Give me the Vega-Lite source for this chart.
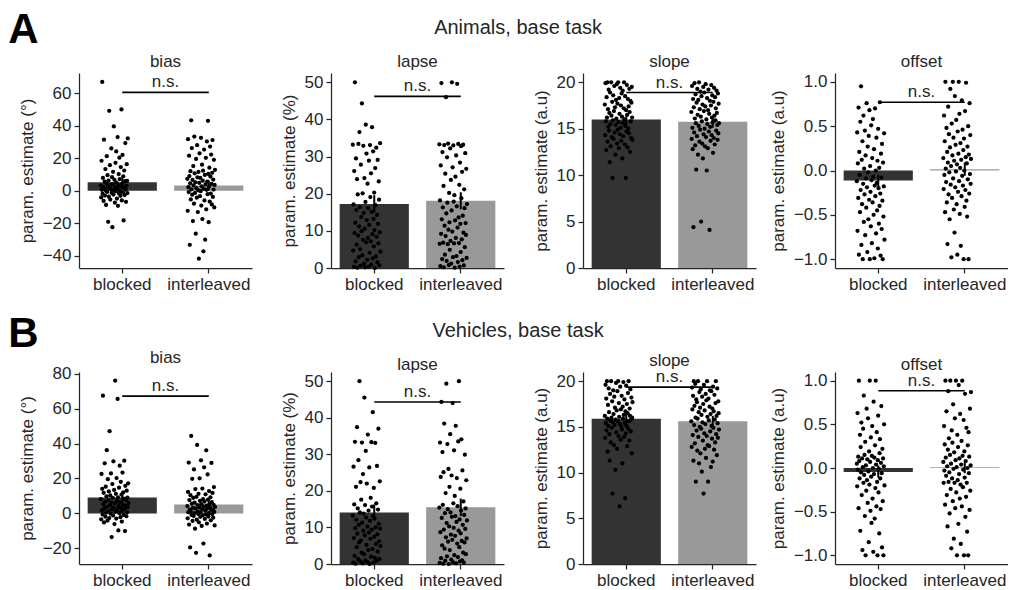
{
"$schema": "https://vega.github.io/schema/vega-lite/v6.json",
"padding": {"left": 8, "top": 8, "right": 0, "bottom": 0},
"config": {
  "font": "Liberation Sans",
  "view": {"stroke": null},
  "axis": {"labelFontSize": 17, "titleFontSize": 17, "titleFontWeight": "normal", "labelColor": "#262626", "titleColor": "#262626", "domainColor": "#262626", "tickColor": "#262626", "domainWidth": 1.25, "tickWidth": 1.25, "tickSize": 5, "labelPadding": 3, "grid": false, "titlePadding": 6, "labelOverlap": false},
  "title": {"fontSize": 17, "fontWeight": "normal", "color": "#262626", "baseline": "alphabetic", "offset": 2},
  "bar": {"width": 69.2},
  "circle": {"size": 18, "color": "black", "opacity": 1},
  "line": {"color": "black", "strokeWidth": 1.6},
  "rule": {"color": "black", "strokeWidth": 2},
  "text": {"fontSize": 17, "color": "#262626"}
},
"datasets": {
"Abias1": [{"v":3.2},{"v":-4.1},{"v":18.5},{"v":0.6},{"v":67},{"v":-1.8},{"v":7.9},{"v":2.4},{"v":-6.2},{"v":31.5},{"v":1.1},{"v":5.6},{"v":-2.9},{"v":13.4},{"v":0.2},{"v":-8.7},{"v":4.8},{"v":21.3},{"v":-0.7},{"v":9.6},{"v":2.9},{"v":-19.1},{"v":6.3},{"v":-3.6},{"v":49.2},{"v":1.7},{"v":15.8},{"v":-5.4},{"v":0.9},{"v":3.8},{"v":26.1},{"v":-1.2},{"v":8.4},{"v":-22.4},{"v":4.1},{"v":11.7},{"v":-2.3},{"v":39.6},{"v":0.4},{"v":6.8},{"v":-7.3},{"v":2.1},{"v":17.2},{"v":-0.3},{"v":24.2},{"v":5.1},{"v":-4.8},{"v":1.4},{"v":33.1},{"v":-9.2},{"v":3.5},{"v":10.3},{"v":-1.6},{"v":20.4},{"v":7.2},{"v":0.1},{"v":-3.1},{"v":14.6},{"v":2.7},{"v":50.1},{"v":-5.9},{"v":4.4},{"v":22.1},{"v":-0.9},{"v":8.9},{"v":-18.2},{"v":1.9},{"v":12.5},{"v":-2.6},{"v":5.9},{"v":29.4},{"v":0.7},{"v":-6.8},{"v":3.1},{"v":16.4},{"v":6.1},{"v":-1.4},{"v":32.2}],
"Abias2": [{"v":7.4},{"v":-12.3},{"v":31.8},{"v":2.2},{"v":-0.8},{"v":21.6},{"v":9.1},{"v":-33.2},{"v":4.6},{"v":12.1},{"v":-5.3},{"v":43.4},{"v":0.9},{"v":26.3},{"v":-2.4},{"v":6.7},{"v":-18.6},{"v":15.2},{"v":3.3},{"v":-7.9},{"v":33.4},{"v":10.8},{"v":-1.3},{"v":5.2},{"v":-26.4},{"v":19.6},{"v":1.6},{"v":-4.2},{"v":28.1},{"v":8.3},{"v":-13.1},{"v":0.3},{"v":11.6},{"v":-41.8},{"v":4.9},{"v":23.1},{"v":-3.3},{"v":7.9},{"v":-0.2},{"v":32.6},{"v":-9.1},{"v":2.8},{"v":16.1},{"v":-17.4},{"v":6.2},{"v":12.4},{"v":-37.2},{"v":1.2},{"v":25.4},{"v":-5.9},{"v":9.8},{"v":-30.1},{"v":3.9},{"v":20.3},{"v":-11.4},{"v":0.6},{"v":30.4},{"v":5.7},{"v":-2.1},{"v":43.1},{"v":10.4},{"v":-19.3},{"v":2.5},{"v":14.2},{"v":-6.6},{"v":27.2},{"v":8.8},{"v":-1.7},{"v":22.3},{"v":4.2},{"v":-8.4},{"v":11.1},{"v":31.2},{"v":-3.8},{"v":6.9},{"v":0.8},{"v":19.1},{"v":-10.2},{"v":3.6},{"v":12.9}],
"Alapse1": [{"v":33.2},{"v":4.7},{"v":17.1},{"v":0.3},{"v":26.1},{"v":9.4},{"v":50.0},{"v":12.2},{"v":1.8},{"v":29.5},{"v":15.6},{"v":6.3},{"v":23.9},{"v":0.1},{"v":19.8},{"v":8.7},{"v":33.4},{"v":2.9},{"v":11.2},{"v":36.6},{"v":16.4},{"v":5.1},{"v":0.6},{"v":27.8},{"v":13.7},{"v":9.9},{"v":44.3},{"v":3.4},{"v":20.1},{"v":7.6},{"v":32.9},{"v":14.8},{"v":1.1},{"v":24.2},{"v":10.6},{"v":0.2},{"v":17.8},{"v":38.6},{"v":6.9},{"v":30.8},{"v":12.9},{"v":2.2},{"v":22.7},{"v":8.1},{"v":16.1},{"v":0.4},{"v":28.9},{"v":11.6},{"v":4.1},{"v":33.1},{"v":19.1},{"v":7.2},{"v":25.5},{"v":0.9},{"v":15.1},{"v":37.9},{"v":9.1},{"v":2.6},{"v":31.4},{"v":13.2},{"v":5.8},{"v":20.3},{"v":10.2},{"v":0.0},{"v":26.9},{"v":16.9},{"v":3.1},{"v":32.4},{"v":8.4},{"v":14.3},{"v":1.5},{"v":29.1},{"v":11.9},{"v":6.6},{"v":23.3},{"v":18.4},{"v":0.7},{"v":9.6},{"v":33.6},{"v":4.4}],
"Alapse2": [{"v":33.3},{"v":6.5},{"v":18.2},{"v":0.5},{"v":27.6},{"v":9.2},{"v":49.8},{"v":13.1},{"v":2.4},{"v":31.2},{"v":16.3},{"v":6.8},{"v":22.1},{"v":0.2},{"v":33.1},{"v":11.4},{"v":3.6},{"v":25.4},{"v":8.6},{"v":46.0},{"v":14.7},{"v":1.9},{"v":29.8},{"v":17.6},{"v":6.4},{"v":33.5},{"v":10.3},{"v":0.8},{"v":20.2},{"v":12.3},{"v":4.9},{"v":32.2},{"v":7.3},{"v":23.7},{"v":1.2},{"v":15.5},{"v":50.0},{"v":9.8},{"v":27.1},{"v":2.9},{"v":33.0},{"v":17.9},{"v":6.6},{"v":19.6},{"v":0.1},{"v":12.8},{"v":24.6},{"v":8.1},{"v":30.3},{"v":3.2},{"v":16.6},{"v":49.6},{"v":10.9},{"v":1.6},{"v":33.4},{"v":13.6},{"v":6.7},{"v":22.4},{"v":0.4},{"v":28.4},{"v":11.9},{"v":4.3},{"v":32.8},{"v":18.8},{"v":7.7},{"v":25.9},{"v":2.1},{"v":14.1},{"v":33.2},{"v":9.5},{"v":0.7},{"v":21.2},{"v":16.1},{"v":5.6},{"v":30.9},{"v":12.1},{"v":8.9},{"v":26.7},{"v":2.7},{"v":17.2}],
"Aslope1": [{"v":17.6},{"v":14.3},{"v":19.9},{"v":15.8},{"v":12.7},{"v":18.4},{"v":16.2},{"v":20.0},{"v":13.6},{"v":17.1},{"v":15.2},{"v":19.2},{"v":14.8},{"v":16.7},{"v":11.4},{"v":18.9},{"v":15.5},{"v":13.1},{"v":20.0},{"v":16.4},{"v":14.1},{"v":17.9},{"v":9.7},{"v":15.9},{"v":18.6},{"v":13.9},{"v":16.9},{"v":19.6},{"v":14.6},{"v":17.3},{"v":12.2},{"v":15.4},{"v":18.1},{"v":16.1},{"v":19.8},{"v":13.4},{"v":17.7},{"v":14.9},{"v":20.0},{"v":15.7},{"v":12.9},{"v":18.3},{"v":16.6},{"v":14.4},{"v":19.4},{"v":15.1},{"v":17.5},{"v":13.7},{"v":18.8},{"v":16.3},{"v":11.8},{"v":19.1},{"v":15.6},{"v":14.2},{"v":17.2},{"v":20.0},{"v":16.0},{"v":13.3},{"v":18.5},{"v":15.3},{"v":9.7},{"v":17.0},{"v":14.7},{"v":19.7},{"v":16.5},{"v":13.0},{"v":18.2},{"v":15.0},{"v":17.4},{"v":14.5},{"v":19.3},{"v":16.8},{"v":12.5},{"v":18.0},{"v":15.8},{"v":14.0},{"v":17.8},{"v":19.5},{"v":16.2},{"v":13.8}],
"Aslope2": [{"v":16.8},{"v":13.9},{"v":19.6},{"v":15.1},{"v":12.8},{"v":18.2},{"v":4.4},{"v":17.3},{"v":14.6},{"v":19.9},{"v":16.1},{"v":13.2},{"v":18.7},{"v":15.6},{"v":10.6},{"v":17.8},{"v":14.2},{"v":19.3},{"v":16.5},{"v":12.2},{"v":18.1},{"v":15.3},{"v":20.0},{"v":13.6},{"v":17.1},{"v":14.9},{"v":19.0},{"v":16.3},{"v":5.0},{"v":18.5},{"v":15.8},{"v":13.4},{"v":17.6},{"v":11.8},{"v":19.5},{"v":14.4},{"v":16.9},{"v":18.9},{"v":15.0},{"v":13.1},{"v":17.4},{"v":19.8},{"v":14.1},{"v":16.0},{"v":10.5},{"v":18.3},{"v":15.5},{"v":12.9},{"v":17.0},{"v":19.2},{"v":14.7},{"v":16.6},{"v":4.1},{"v":18.0},{"v":15.2},{"v":13.7},{"v":17.5},{"v":19.7},{"v":14.3},{"v":16.2},{"v":18.6},{"v":15.7},{"v":12.4},{"v":17.9},{"v":14.0},{"v":19.4},{"v":16.4},{"v":13.3},{"v":18.4},{"v":15.9},{"v":17.2},{"v":14.8},{"v":19.1},{"v":16.7},{"v":15.4},{"v":13.8},{"v":18.8},{"v":14.5},{"v":17.7},{"v":15.6}],
"Aoffset1": [{"v":-0.12},{"v":0.43},{"v":-0.68},{"v":0.08},{"v":-0.31},{"v":0.71},{"v":-0.95},{"v":0.21},{"v":-0.05},{"v":-0.47},{"v":0.55},{"v":-0.22},{"v":0.95},{"v":-0.84},{"v":0.12},{"v":-0.38},{"v":0.33},{"v":-1.0},{"v":-0.15},{"v":0.62},{"v":-0.58},{"v":0.02},{"v":-0.27},{"v":0.45},{"v":-0.73},{"v":0.17},{"v":-0.09},{"v":-0.42},{"v":0.76},{"v":-0.19},{"v":-0.92},{"v":0.27},{"v":-0.02},{"v":-0.55},{"v":0.39},{"v":-0.33},{"v":0.68},{"v":-1.0},{"v":0.05},{"v":-0.24},{"v":-0.63},{"v":0.51},{"v":-0.11},{"v":-0.82},{"v":0.14},{"v":-0.36},{"v":0.58},{"v":-0.07},{"v":-0.5},{"v":0.24},{"v":-0.99},{"v":-0.17},{"v":0.7},{"v":-0.29},{"v":0.0},{"v":-0.71},{"v":0.37},{"v":-0.14},{"v":-0.45},{"v":0.11},{"v":-0.88},{"v":0.47},{"v":-0.2},{"v":-0.6},{"v":0.03},{"v":-0.4},{"v":0.77},{"v":-0.26},{"v":-0.96},{"v":0.19},{"v":-0.08},{"v":-0.66},{"v":0.3},{"v":-0.34},{"v":-1.0},{"v":0.09},{"v":-0.52},{"v":-0.18},{"v":0.42},{"v":-0.78}],
"Aoffset2": [{"v":0.14},{"v":-0.21},{"v":0.62},{"v":-0.05},{"v":0.33},{"v":-0.47},{"v":1.0},{"v":0.02},{"v":-0.13},{"v":0.48},{"v":-0.36},{"v":0.21},{"v":-0.83},{"v":0.09},{"v":0.72},{"v":-0.27},{"v":0.41},{"v":-0.02},{"v":-0.55},{"v":0.26},{"v":0.92},{"v":-0.16},{"v":0.05},{"v":-0.98},{"v":0.53},{"v":-0.31},{"v":0.17},{"v":1.0},{"v":-0.09},{"v":0.37},{"v":-0.44},{"v":0.11},{"v":-0.7},{"v":0.84},{"v":-0.19},{"v":0.29},{"v":-0.01},{"v":0.57},{"v":-0.38},{"v":0.07},{"v":-0.95},{"v":0.44},{"v":-0.24},{"v":0.19},{"v":1.0},{"v":-0.12},{"v":0.64},{"v":-0.49},{"v":0.03},{"v":0.31},{"v":-0.85},{"v":0.12},{"v":-0.29},{"v":0.79},{"v":-0.06},{"v":0.46},{"v":-0.17},{"v":0.23},{"v":-1.0},{"v":0.36},{"v":0.0},{"v":-0.41},{"v":0.67},{"v":-0.22},{"v":0.15},{"v":0.99},{"v":-0.34},{"v":0.08},{"v":-0.52},{"v":0.27},{"v":-0.1},{"v":0.5},{"v":-1.0},{"v":0.18},{"v":-0.26},{"v":0.76},{"v":-0.04},{"v":0.4},{"v":-0.15},{"v":0.13}],
"Bbias1": [{"v":8.2},{"v":-3.4},{"v":22.6},{"v":1.7},{"v":14.1},{"v":-0.6},{"v":67.4},{"v":5.3},{"v":11.8},{"v":-5.2},{"v":2.9},{"v":28.7},{"v":6.6},{"v":-1.9},{"v":15.3},{"v":0.4},{"v":9.7},{"v":36.2},{"v":3.8},{"v":-4.1},{"v":19.6},{"v":7.4},{"v":1.1},{"v":12.6},{"v":-2.7},{"v":47.1},{"v":4.6},{"v":10.3},{"v":-0.2},{"v":22.9},{"v":6.1},{"v":-13.6},{"v":2.3},{"v":16.8},{"v":8.9},{"v":-1.2},{"v":29.8},{"v":3.3},{"v":13.4},{"v":-6.1},{"v":5.8},{"v":76.0},{"v":0.9},{"v":11.2},{"v":-3.0},{"v":20.2},{"v":7.1},{"v":2.0},{"v":65.6},{"v":9.2},{"v":-9.8},{"v":4.1},{"v":14.7},{"v":0.1},{"v":27.3},{"v":6.3},{"v":-2.2},{"v":18.1},{"v":3.0},{"v":10.8},{"v":-4.7},{"v":1.4},{"v":23.4},{"v":5.0},{"v":12.1},{"v":-0.9},{"v":8.5},{"v":30.2},{"v":2.6},{"v":-10.1},{"v":15.8},{"v":4.3},{"v":7.8},{"v":-1.6},{"v":13.0},{"v":0.6},{"v":9.0},{"v":3.6},{"v":17.2},{"v":5.9}],
"Bbias2": [{"v":4.2},{"v":-2.8},{"v":12.3},{"v":0.7},{"v":29.1},{"v":-6.4},{"v":7.6},{"v":2.1},{"v":-19.5},{"v":10.4},{"v":1.3},{"v":44.4},{"v":-0.9},{"v":5.6},{"v":19.8},{"v":-4.3},{"v":3.1},{"v":8.9},{"v":-1.5},{"v":25.2},{"v":0.2},{"v":6.1},{"v":-8.8},{"v":13.9},{"v":2.7},{"v":-22.6},{"v":9.5},{"v":-3.6},{"v":39.2},{"v":4.8},{"v":1.0},{"v":-0.3},{"v":11.2},{"v":-5.1},{"v":3.5},{"v":20.1},{"v":7.2},{"v":-2.0},{"v":0.5},{"v":30.4},{"v":5.3},{"v":-7.2},{"v":2.4},{"v":14.2},{"v":-1.1},{"v":8.1},{"v":-17.3},{"v":3.9},{"v":26.4},{"v":6.8},{"v":-3.2},{"v":1.6},{"v":10.9},{"v":-0.6},{"v":36.1},{"v":4.5},{"v":-5.8},{"v":2.9},{"v":22.3},{"v":7.9},{"v":-1.8},{"v":0.1},{"v":12.8},{"v":5.1},{"v":-24.1},{"v":3.3},{"v":9.2},{"v":-4.0},{"v":1.9},{"v":28.9},{"v":6.4},{"v":-0.4},{"v":11.7},{"v":2.2},{"v":-2.5},{"v":4.9},{"v":15.1},{"v":0.8},{"v":-6.9},{"v":3.7}],
"Blapse1": [{"v":13.2},{"v":0.4},{"v":26.6},{"v":7.1},{"v":16.3},{"v":2.2},{"v":33.4},{"v":9.8},{"v":0.1},{"v":21.1},{"v":12.1},{"v":4.6},{"v":37.4},{"v":8.3},{"v":15.2},{"v":1.3},{"v":28.4},{"v":10.7},{"v":5.9},{"v":50.0},{"v":14.1},{"v":0.8},{"v":22.4},{"v":6.4},{"v":17.6},{"v":3.1},{"v":33.2},{"v":11.3},{"v":0.2},{"v":24.6},{"v":9.1},{"v":13.8},{"v":2.7},{"v":45.5},{"v":7.8},{"v":16.1},{"v":1.0},{"v":30.9},{"v":12.7},{"v":5.2},{"v":22.0},{"v":0.6},{"v":10.2},{"v":35.4},{"v":3.8},{"v":14.6},{"v":8.6},{"v":26.4},{"v":0.0},{"v":11.8},{"v":6.9},{"v":18.1},{"v":2.0},{"v":33.3},{"v":9.4},{"v":15.7},{"v":4.1},{"v":41.5},{"v":13.1},{"v":0.3},{"v":20.8},{"v":7.4},{"v":12.4},{"v":1.7},{"v":33.1},{"v":10.0},{"v":5.5},{"v":16.6},{"v":0.9},{"v":26.8},{"v":8.1},{"v":3.4},{"v":14.9},{"v":37.0},{"v":11.0},{"v":6.2},{"v":1.4},{"v":22.6},{"v":9.7},{"v":4.9}],
"Blapse2": [{"v":15.4},{"v":0.3},{"v":33.2},{"v":8.7},{"v":23.8},{"v":1.6},{"v":44.3},{"v":12.6},{"v":5.1},{"v":30.6},{"v":16.2},{"v":0.1},{"v":25.1},{"v":9.4},{"v":38.4},{"v":4.2},{"v":13.9},{"v":0.9},{"v":19.4},{"v":7.3},{"v":49.3},{"v":11.2},{"v":2.1},{"v":32.8},{"v":15.0},{"v":6.1},{"v":26.0},{"v":0.0},{"v":10.3},{"v":21.1},{"v":3.8},{"v":35.5},{"v":14.1},{"v":8.0},{"v":1.2},{"v":24.2},{"v":12.9},{"v":6.6},{"v":44.0},{"v":0.5},{"v":16.6},{"v":9.9},{"v":31.1},{"v":2.4},{"v":18.6},{"v":7.7},{"v":13.1},{"v":37.8},{"v":0.2},{"v":11.5},{"v":23.5},{"v":5.6},{"v":15.8},{"v":1.9},{"v":33.5},{"v":9.1},{"v":50.0},{"v":4.6},{"v":12.2},{"v":0.7},{"v":20.6},{"v":8.4},{"v":14.6},{"v":34.1},{"v":6.3},{"v":1.0},{"v":25.6},{"v":10.7},{"v":3.1},{"v":17.1},{"v":0.4},{"v":13.4},{"v":5.9},{"v":29.9},{"v":9.6},{"v":15.2},{"v":2.7},{"v":22.9},{"v":7.0},{"v":11.9}],
"Bslope1": [{"v":16.2},{"v":13.8},{"v":19.6},{"v":15.4},{"v":18.1},{"v":14.6},{"v":20.0},{"v":15.9},{"v":12.3},{"v":17.4},{"v":15.1},{"v":19.2},{"v":16.6},{"v":14.2},{"v":11.3},{"v":18.6},{"v":15.7},{"v":13.3},{"v":20.0},{"v":16.0},{"v":14.9},{"v":17.8},{"v":7.7},{"v":15.5},{"v":19.0},{"v":16.4},{"v":13.0},{"v":18.3},{"v":15.2},{"v":17.1},{"v":10.3},{"v":15.8},{"v":19.8},{"v":14.4},{"v":16.8},{"v":12.6},{"v":18.9},{"v":15.6},{"v":20.0},{"v":14.0},{"v":17.6},{"v":16.1},{"v":6.3},{"v":15.3},{"v":19.4},{"v":13.6},{"v":16.9},{"v":15.0},{"v":18.4},{"v":14.7},{"v":11.0},{"v":17.2},{"v":15.9},{"v":19.9},{"v":16.3},{"v":13.9},{"v":18.0},{"v":15.4},{"v":7.2},{"v":16.7},{"v":14.3},{"v":19.5},{"v":15.1},{"v":17.5},{"v":12.9},{"v":16.5},{"v":18.7},{"v":14.8},{"v":20.0},{"v":15.6},{"v":13.5},{"v":17.0},{"v":16.2},{"v":19.1},{"v":14.5},{"v":15.8},{"v":18.2},{"v":12.1},{"v":16.0},{"v":17.7}],
"Bslope2": [{"v":15.6},{"v":12.8},{"v":19.3},{"v":16.9},{"v":14.1},{"v":18.4},{"v":11.3},{"v":20.0},{"v":15.2},{"v":17.3},{"v":13.2},{"v":19.7},{"v":16.0},{"v":9.0},{"v":18.0},{"v":14.6},{"v":17.7},{"v":12.4},{"v":15.9},{"v":20.0},{"v":13.9},{"v":16.6},{"v":11.0},{"v":18.8},{"v":15.0},{"v":17.1},{"v":12.1},{"v":19.1},{"v":14.8},{"v":16.3},{"v":10.1},{"v":18.3},{"v":15.5},{"v":13.5},{"v":17.5},{"v":7.7},{"v":19.6},{"v":14.3},{"v":16.8},{"v":12.6},{"v":15.3},{"v":18.6},{"v":11.6},{"v":17.9},{"v":14.0},{"v":20.0},{"v":16.1},{"v":13.0},{"v":9.0},{"v":18.1},{"v":15.7},{"v":12.9},{"v":17.2},{"v":19.0},{"v":14.5},{"v":16.4},{"v":10.6},{"v":18.9},{"v":15.1},{"v":13.7},{"v":17.0},{"v":11.2},{"v":19.4},{"v":14.9},{"v":16.7},{"v":12.5},{"v":18.5},{"v":15.8},{"v":13.3},{"v":17.6},{"v":20.0},{"v":14.2},{"v":16.2},{"v":11.9},{"v":19.2},{"v":15.4},{"v":13.8},{"v":17.8},{"v":16.5},{"v":14.7}],
"Boffset1": [{"v":0.05},{"v":-0.21},{"v":0.63},{"v":-0.02},{"v":0.13},{"v":-0.46},{"v":1.0},{"v":0.08},{"v":-0.12},{"v":0.38},{"v":-0.72},{"v":0.24},{"v":-0.05},{"v":0.52},{"v":-0.31},{"v":0.11},{"v":-0.94},{"v":0.01},{"v":0.45},{"v":-0.17},{"v":0.83},{"v":-0.08},{"v":0.15},{"v":-0.55},{"v":0.3},{"v":-1.0},{"v":0.03},{"v":-0.26},{"v":0.68},{"v":-0.14},{"v":0.1},{"v":-0.4},{"v":0.57},{"v":-0.04},{"v":-0.85},{"v":0.19},{"v":-0.19},{"v":1.0},{"v":0.07},{"v":-0.49},{"v":0.35},{"v":-0.1},{"v":-0.63},{"v":0.14},{"v":0.48},{"v":-0.35},{"v":0.0},{"v":-0.96},{"v":0.76},{"v":-0.07},{"v":0.12},{"v":-0.58},{"v":0.26},{"v":-0.23},{"v":1.0},{"v":0.04},{"v":-0.44},{"v":0.41},{"v":-0.16},{"v":-1.0},{"v":0.09},{"v":0.6},{"v":-0.28},{"v":-0.01},{"v":-0.75},{"v":0.17},{"v":0.33},{"v":-0.12},{"v":-0.47},{"v":0.06},{"v":0.71},{"v":-0.06},{"v":-0.91},{"v":0.22},{"v":-0.38},{"v":0.11},{"v":-1.0},{"v":0.02},{"v":0.5},{"v":-0.2}],
"Boffset2": [{"v":0.07},{"v":-0.17},{"v":0.48},{"v":-0.03},{"v":0.27},{"v":-0.42},{"v":1.0},{"v":0.12},{"v":-0.09},{"v":0.65},{"v":-0.31},{"v":0.02},{"v":-0.67},{"v":0.21},{"v":0.88},{"v":-0.16},{"v":0.34},{"v":-0.05},{"v":-0.52},{"v":0.15},{"v":1.0},{"v":-0.24},{"v":0.05},{"v":-0.92},{"v":0.43},{"v":-0.12},{"v":0.29},{"v":-0.38},{"v":0.73},{"v":-0.01},{"v":-0.81},{"v":0.18},{"v":-0.17},{"v":0.57},{"v":-0.46},{"v":0.09},{"v":1.0},{"v":-0.28},{"v":0.01},{"v":-1.0},{"v":0.38},{"v":-0.14},{"v":0.24},{"v":-0.64},{"v":0.95},{"v":-0.07},{"v":0.11},{"v":-0.35},{"v":0.62},{"v":-0.19},{"v":-0.87},{"v":0.04},{"v":0.31},{"v":-0.44},{"v":1.0},{"v":0.14},{"v":-0.22},{"v":-0.02},{"v":0.55},{"v":-1.0},{"v":0.19},{"v":-0.11},{"v":0.85},{"v":-0.56},{"v":0.08},{"v":-0.33},{"v":0.46},{"v":-0.17},{"v":-0.73},{"v":0.0},{"v":0.26},{"v":-1.0},{"v":0.41},{"v":-0.06},{"v":0.13},{"v":-0.48},{"v":0.68},{"v":-0.26},{"v":0.03},{"v":0.87}]
},
"vconcat": [
{
"title": {"text": "A", "anchor": "start", "fontSize": 42, "fontWeight": "bold", "color": "black", "offset": 0, "dy": 34, "dx": -10},
"vconcat": [{
"title": {"text": "Animals, base task", "fontSize": 20, "offset": 15, "anchor": "middle", "dx": 5},
"bounds": "flush", "spacing": 79,
"hconcat": [
{"width": 173, "height": 195, "title": "bias",
 "data": {"values": [{"c":"blocked","v":5.2,"lo":2.2,"hi":8.2},{"c":"interleaved","v":3.3,"lo":0.1,"hi":6.5}]},
 "layer": [
  {"mark": {"type":"bar"}, "encoding": {"x": {"field":"c","type":"nominal","title":null,"scale":{"domain":["blocked","interleaved"],"paddingInner":0.2,"paddingOuter":0.1},"axis":{"labelAngle":0,"bandPosition":0.5}}, "y": {"field":"v","type":"quantitative","scale":{"domain":[-47.5,72.5],"nice":false},"axis":{"title":"param. estimate (°)","values":[-40,-20,0,20,40,60],"tickCount":20,"labelOverlap":false}}, "color": {"field":"c","type":"nominal","scale":{"domain":["blocked","interleaved"],"range":["#333333","#999999"]},"legend":null}}},
  {"mark": {"type":"rule"}, "encoding": {"x":{"field":"c","type":"nominal","title":null},"y":{"field":"lo","type":"quantitative"},"y2":{"field":"hi"}}},
  {"data":{"name":"Abias1"},"transform":[{"window":[{"op":"row_number","as":"i"}]}],"mark":{"type":"circle"},"encoding":{"x":{"datum":"blocked","type":"nominal"},"xOffset":{"field":"i","type":"ordinal","scale":{"type":"point","range":[13,41]}},"y":{"field":"v","type":"quantitative"}}},
  {"data":{"name":"Abias2"},"transform":[{"window":[{"op":"row_number","as":"i"}]}],"mark":{"type":"circle"},"encoding":{"x":{"datum":"interleaved","type":"nominal"},"xOffset":{"field":"i","type":"ordinal","scale":{"type":"point","range":[13,41]}},"y":{"field":"v","type":"quantitative"}}},
  {"data":{"values":[{"c":"blocked","v":60.6},{"c":"interleaved","v":60.6}]},"mark":{"type":"line"},"encoding":{"x":{"field":"c","type":"nominal","title":null},"y":{"field":"v","type":"quantitative"}}},
  {"data":{"values":[{"c":"blocked","v":60.6}]},"mark":{"type":"text","text":"n.s.","baseline":"alphabetic","dy":-5},"encoding":{"x":{"field":"c","type":"nominal","title":null,"bandPosition":1.125},"y":{"field":"v","type":"quantitative"}}}
 ]},
{"width": 173, "height": 195, "title": "lapse",
 "data": {"values": [{"c":"blocked","v":17.2,"lo":15.0,"hi":19.6},{"c":"interleaved","v":18.1,"lo":15.8,"hi":20.4}]},
 "layer": [
  {"mark": {"type":"bar"}, "encoding": {"x": {"field":"c","type":"nominal","title":null,"scale":{"domain":["blocked","interleaved"],"paddingInner":0.2,"paddingOuter":0.1},"axis":{"labelAngle":0,"bandPosition":0.5}}, "y": {"field":"v","type":"quantitative","scale":{"domain":[0,52.5],"nice":false},"axis":{"title":"param. estimate (%)","values":[0,10,20,30,40,50],"tickCount":20,"labelOverlap":false}}, "color": {"field":"c","type":"nominal","scale":{"domain":["blocked","interleaved"],"range":["#333333","#999999"]},"legend":null}}},
  {"mark": {"type":"rule"}, "encoding": {"x":{"field":"c","type":"nominal","title":null},"y":{"field":"lo","type":"quantitative"},"y2":{"field":"hi"}}},
  {"data":{"name":"Alapse1"},"transform":[{"window":[{"op":"row_number","as":"i"}]}],"mark":{"type":"circle"},"encoding":{"x":{"datum":"blocked","type":"nominal"},"xOffset":{"field":"i","type":"ordinal","scale":{"type":"point","range":[13,41]}},"y":{"field":"v","type":"quantitative"}}},
  {"data":{"name":"Alapse2"},"transform":[{"window":[{"op":"row_number","as":"i"}]}],"mark":{"type":"circle"},"encoding":{"x":{"datum":"interleaved","type":"nominal"},"xOffset":{"field":"i","type":"ordinal","scale":{"type":"point","range":[13,41]}},"y":{"field":"v","type":"quantitative"}}},
  {"data":{"values":[{"c":"blocked","v":46.2},{"c":"interleaved","v":46.2}]},"mark":{"type":"line"},"encoding":{"x":{"field":"c","type":"nominal","title":null},"y":{"field":"v","type":"quantitative"}}},
  {"data":{"values":[{"c":"blocked","v":46.2}]},"mark":{"type":"text","text":"n.s.","baseline":"alphabetic","dy":-5},"encoding":{"x":{"field":"c","type":"nominal","title":null,"bandPosition":1.125},"y":{"field":"v","type":"quantitative"}}}
 ]},
{"width": 173, "height": 195, "title": "slope",
 "data": {"values": [{"c":"blocked","v":15.98,"lo":15.4,"hi":16.5},{"c":"interleaved","v":15.76,"lo":15.1,"hi":16.4}]},
 "layer": [
  {"mark": {"type":"bar"}, "encoding": {"x": {"field":"c","type":"nominal","title":null,"scale":{"domain":["blocked","interleaved"],"paddingInner":0.2,"paddingOuter":0.1},"axis":{"labelAngle":0,"bandPosition":0.5}}, "y": {"field":"v","type":"quantitative","scale":{"domain":[0,21],"nice":false},"axis":{"title":"param. estimate (a.u)","values":[0,5,10,15,20],"tickCount":20,"labelOverlap":false}}, "color": {"field":"c","type":"nominal","scale":{"domain":["blocked","interleaved"],"range":["#333333","#999999"]},"legend":null}}},
  {"mark": {"type":"rule"}, "encoding": {"x":{"field":"c","type":"nominal","title":null},"y":{"field":"lo","type":"quantitative"},"y2":{"field":"hi"}}},
  {"data":{"name":"Aslope1"},"transform":[{"window":[{"op":"row_number","as":"i"}]}],"mark":{"type":"circle"},"encoding":{"x":{"datum":"blocked","type":"nominal"},"xOffset":{"field":"i","type":"ordinal","scale":{"type":"point","range":[13,41]}},"y":{"field":"v","type":"quantitative"}}},
  {"data":{"name":"Aslope2"},"transform":[{"window":[{"op":"row_number","as":"i"}]}],"mark":{"type":"circle"},"encoding":{"x":{"datum":"interleaved","type":"nominal"},"xOffset":{"field":"i","type":"ordinal","scale":{"type":"point","range":[13,41]}},"y":{"field":"v","type":"quantitative"}}},
  {"data":{"values":[{"c":"blocked","v":18.9},{"c":"interleaved","v":18.9}]},"mark":{"type":"line"},"encoding":{"x":{"field":"c","type":"nominal","title":null},"y":{"field":"v","type":"quantitative"}}},
  {"data":{"values":[{"c":"blocked","v":18.9}]},"mark":{"type":"text","text":"n.s.","baseline":"alphabetic","dy":-5},"encoding":{"x":{"field":"c","type":"nominal","title":null,"bandPosition":1.125},"y":{"field":"v","type":"quantitative"}}}
 ]},
{"width": 173, "height": 195, "title": "offset",
 "data": {"values": [{"c":"blocked","v":-0.113,"lo":-0.19,"hi":-0.05},{"c":"interleaved","v":0.015,"lo":-0.06,"hi":0.09}]},
 "layer": [
  {"mark": {"type":"bar"}, "encoding": {"x": {"field":"c","type":"nominal","title":null,"scale":{"domain":["blocked","interleaved"],"paddingInner":0.2,"paddingOuter":0.1},"axis":{"labelAngle":0,"bandPosition":0.5}}, "y": {"field":"v","type":"quantitative","scale":{"domain":[-1.1,1.1],"nice":false},"axis":{"title":"param. estimate (a.u)","values":[-1,-0.5,0,0.5,1],"format":".1f","tickCount":20,"labelOverlap":false}}, "color": {"field":"c","type":"nominal","scale":{"domain":["blocked","interleaved"],"range":["#333333","#999999"]},"legend":null}}},
  {"mark": {"type":"rule"}, "encoding": {"x":{"field":"c","type":"nominal","title":null},"y":{"field":"lo","type":"quantitative"},"y2":{"field":"hi"}}},
  {"data":{"name":"Aoffset1"},"transform":[{"window":[{"op":"row_number","as":"i"}]}],"mark":{"type":"circle"},"encoding":{"x":{"datum":"blocked","type":"nominal"},"xOffset":{"field":"i","type":"ordinal","scale":{"type":"point","range":[13,41]}},"y":{"field":"v","type":"quantitative"}}},
  {"data":{"name":"Aoffset2"},"transform":[{"window":[{"op":"row_number","as":"i"}]}],"mark":{"type":"circle"},"encoding":{"x":{"datum":"interleaved","type":"nominal"},"xOffset":{"field":"i","type":"ordinal","scale":{"type":"point","range":[13,41]}},"y":{"field":"v","type":"quantitative"}}},
  {"data":{"values":[{"c":"blocked","v":0.77},{"c":"interleaved","v":0.77}]},"mark":{"type":"line"},"encoding":{"x":{"field":"c","type":"nominal","title":null},"y":{"field":"v","type":"quantitative"}}},
  {"data":{"values":[{"c":"blocked","v":0.77}]},"mark":{"type":"text","text":"n.s.","baseline":"alphabetic","dy":-5},"encoding":{"x":{"field":"c","type":"nominal","title":null,"bandPosition":1.125},"y":{"field":"v","type":"quantitative"}}}
 ]}
]}]},
{
"title": {"text": "B", "anchor": "start", "fontSize": 42, "fontWeight": "bold", "color": "black", "offset": 0, "dy": 35, "dx": -10},
"vconcat": [{
"title": {"text": "Vehicles, base task", "fontSize": 20, "offset": 8, "anchor": "middle", "dx": 5},
"bounds": "flush", "spacing": 79,
"hconcat": [
{"width": 173, "height": 192, "title": {"text": "bias", "offset": -2},
 "data": {"values": [{"c":"blocked","v":9.1,"lo":6.3,"hi":12.4},{"c":"interleaved","v":5.1,"lo":2.8,"hi":7.6}]},
 "layer": [
  {"mark": {"type":"bar"}, "encoding": {"x": {"field":"c","type":"nominal","title":null,"scale":{"domain":["blocked","interleaved"],"paddingInner":0.2,"paddingOuter":0.1},"axis":{"labelAngle":0,"bandPosition":0.5}}, "y": {"field":"v","type":"quantitative","scale":{"domain":[-29,81],"nice":false},"axis":{"title":"param. estimate (°)","values":[-20,0,20,40,60,80],"tickCount":20,"labelOverlap":false}}, "color": {"field":"c","type":"nominal","scale":{"domain":["blocked","interleaved"],"range":["#333333","#999999"]},"legend":null}}},
  {"mark": {"type":"rule"}, "encoding": {"x":{"field":"c","type":"nominal","title":null},"y":{"field":"lo","type":"quantitative"},"y2":{"field":"hi"}}},
  {"data":{"name":"Bbias1"},"transform":[{"window":[{"op":"row_number","as":"i"}]}],"mark":{"type":"circle"},"encoding":{"x":{"datum":"blocked","type":"nominal"},"xOffset":{"field":"i","type":"ordinal","scale":{"type":"point","range":[13,41]}},"y":{"field":"v","type":"quantitative"}}},
  {"data":{"name":"Bbias2"},"transform":[{"window":[{"op":"row_number","as":"i"}]}],"mark":{"type":"circle"},"encoding":{"x":{"datum":"interleaved","type":"nominal"},"xOffset":{"field":"i","type":"ordinal","scale":{"type":"point","range":[13,41]}},"y":{"field":"v","type":"quantitative"}}},
  {"data":{"values":[{"c":"blocked","v":67.2},{"c":"interleaved","v":67.2}]},"mark":{"type":"line"},"encoding":{"x":{"field":"c","type":"nominal","title":null},"y":{"field":"v","type":"quantitative"}}},
  {"data":{"values":[{"c":"blocked","v":67.2}]},"mark":{"type":"text","text":"n.s.","baseline":"alphabetic","dy":-5},"encoding":{"x":{"field":"c","type":"nominal","title":null,"bandPosition":1.125},"y":{"field":"v","type":"quantitative"}}}
 ]},
{"width": 173, "height": 192, "title": {"text": "lapse", "offset": -2},
 "data": {"values": [{"c":"blocked","v":14.1,"lo":12.0,"hi":16.3},{"c":"interleaved","v":15.5,"lo":13.1,"hi":17.9}]},
 "layer": [
  {"mark": {"type":"bar"}, "encoding": {"x": {"field":"c","type":"nominal","title":null,"scale":{"domain":["blocked","interleaved"],"paddingInner":0.2,"paddingOuter":0.1},"axis":{"labelAngle":0,"bandPosition":0.5}}, "y": {"field":"v","type":"quantitative","scale":{"domain":[0,52.5],"nice":false},"axis":{"title":"param. estimate (%)","values":[0,10,20,30,40,50],"tickCount":20,"labelOverlap":false}}, "color": {"field":"c","type":"nominal","scale":{"domain":["blocked","interleaved"],"range":["#333333","#999999"]},"legend":null}}},
  {"mark": {"type":"rule"}, "encoding": {"x":{"field":"c","type":"nominal","title":null},"y":{"field":"lo","type":"quantitative"},"y2":{"field":"hi"}}},
  {"data":{"name":"Blapse1"},"transform":[{"window":[{"op":"row_number","as":"i"}]}],"mark":{"type":"circle"},"encoding":{"x":{"datum":"blocked","type":"nominal"},"xOffset":{"field":"i","type":"ordinal","scale":{"type":"point","range":[13,41]}},"y":{"field":"v","type":"quantitative"}}},
  {"data":{"name":"Blapse2"},"transform":[{"window":[{"op":"row_number","as":"i"}]}],"mark":{"type":"circle"},"encoding":{"x":{"datum":"interleaved","type":"nominal"},"xOffset":{"field":"i","type":"ordinal","scale":{"type":"point","range":[13,41]}},"y":{"field":"v","type":"quantitative"}}},
  {"data":{"values":[{"c":"blocked","v":44.3},{"c":"interleaved","v":44.3}]},"mark":{"type":"line"},"encoding":{"x":{"field":"c","type":"nominal","title":null},"y":{"field":"v","type":"quantitative"}}},
  {"data":{"values":[{"c":"blocked","v":44.3}]},"mark":{"type":"text","text":"n.s.","baseline":"alphabetic","dy":-5},"encoding":{"x":{"field":"c","type":"nominal","title":null,"bandPosition":1.125},"y":{"field":"v","type":"quantitative"}}}
 ]},
{"width": 173, "height": 192, "title": {"text": "slope", "offset": -2},
 "data": {"values": [{"c":"blocked","v":15.9,"lo":15.4,"hi":16.4},{"c":"interleaved","v":15.6,"lo":15.0,"hi":16.2}]},
 "layer": [
  {"mark": {"type":"bar"}, "encoding": {"x": {"field":"c","type":"nominal","title":null,"scale":{"domain":["blocked","interleaved"],"paddingInner":0.2,"paddingOuter":0.1},"axis":{"labelAngle":0,"bandPosition":0.5}}, "y": {"field":"v","type":"quantitative","scale":{"domain":[0,21],"nice":false},"axis":{"title":"param. estimate (a.u)","values":[0,5,10,15,20],"tickCount":20,"labelOverlap":false}}, "color": {"field":"c","type":"nominal","scale":{"domain":["blocked","interleaved"],"range":["#333333","#999999"]},"legend":null}}},
  {"mark": {"type":"rule"}, "encoding": {"x":{"field":"c","type":"nominal","title":null},"y":{"field":"lo","type":"quantitative"},"y2":{"field":"hi"}}},
  {"data":{"name":"Bslope1"},"transform":[{"window":[{"op":"row_number","as":"i"}]}],"mark":{"type":"circle"},"encoding":{"x":{"datum":"blocked","type":"nominal"},"xOffset":{"field":"i","type":"ordinal","scale":{"type":"point","range":[13,41]}},"y":{"field":"v","type":"quantitative"}}},
  {"data":{"name":"Bslope2"},"transform":[{"window":[{"op":"row_number","as":"i"}]}],"mark":{"type":"circle"},"encoding":{"x":{"datum":"interleaved","type":"nominal"},"xOffset":{"field":"i","type":"ordinal","scale":{"type":"point","range":[13,41]}},"y":{"field":"v","type":"quantitative"}}},
  {"data":{"values":[{"c":"blocked","v":19.35},{"c":"interleaved","v":19.35}]},"mark":{"type":"line"},"encoding":{"x":{"field":"c","type":"nominal","title":null},"y":{"field":"v","type":"quantitative"}}},
  {"data":{"values":[{"c":"blocked","v":19.35}]},"mark":{"type":"text","text":"n.s.","baseline":"alphabetic","dy":-5},"encoding":{"x":{"field":"c","type":"nominal","title":null,"bandPosition":1.125},"y":{"field":"v","type":"quantitative"}}}
 ]},
{"width": 173, "height": 192, "title": {"text": "offset", "offset": -2},
 "data": {"values": [{"c":"blocked","v":-0.045,"lo":-0.11,"hi":0.03},{"c":"interleaved","v":0.01,"lo":-0.06,"hi":0.08}]},
 "layer": [
  {"mark": {"type":"bar"}, "encoding": {"x": {"field":"c","type":"nominal","title":null,"scale":{"domain":["blocked","interleaved"],"paddingInner":0.2,"paddingOuter":0.1},"axis":{"labelAngle":0,"bandPosition":0.5}}, "y": {"field":"v","type":"quantitative","scale":{"domain":[-1.1,1.1],"nice":false},"axis":{"title":"param. estimate (a.u)","values":[-1,-0.5,0,0.5,1],"format":".1f","tickCount":20,"labelOverlap":false}}, "color": {"field":"c","type":"nominal","scale":{"domain":["blocked","interleaved"],"range":["#333333","#999999"]},"legend":null}}},
  {"mark": {"type":"rule"}, "encoding": {"x":{"field":"c","type":"nominal","title":null},"y":{"field":"lo","type":"quantitative"},"y2":{"field":"hi"}}},
  {"data":{"name":"Boffset1"},"transform":[{"window":[{"op":"row_number","as":"i"}]}],"mark":{"type":"circle"},"encoding":{"x":{"datum":"blocked","type":"nominal"},"xOffset":{"field":"i","type":"ordinal","scale":{"type":"point","range":[13,41]}},"y":{"field":"v","type":"quantitative"}}},
  {"data":{"name":"Boffset2"},"transform":[{"window":[{"op":"row_number","as":"i"}]}],"mark":{"type":"circle"},"encoding":{"x":{"datum":"interleaved","type":"nominal"},"xOffset":{"field":"i","type":"ordinal","scale":{"type":"point","range":[13,41]}},"y":{"field":"v","type":"quantitative"}}},
  {"data":{"values":[{"c":"blocked","v":0.886},{"c":"interleaved","v":0.886}]},"mark":{"type":"line"},"encoding":{"x":{"field":"c","type":"nominal","title":null},"y":{"field":"v","type":"quantitative"}}},
  {"data":{"values":[{"c":"blocked","v":0.886}]},"mark":{"type":"text","text":"n.s.","baseline":"alphabetic","dy":-5},"encoding":{"x":{"field":"c","type":"nominal","title":null,"bandPosition":1.125},"y":{"field":"v","type":"quantitative"}}}
 ]}
]}]}
],
"spacing": 20
}
